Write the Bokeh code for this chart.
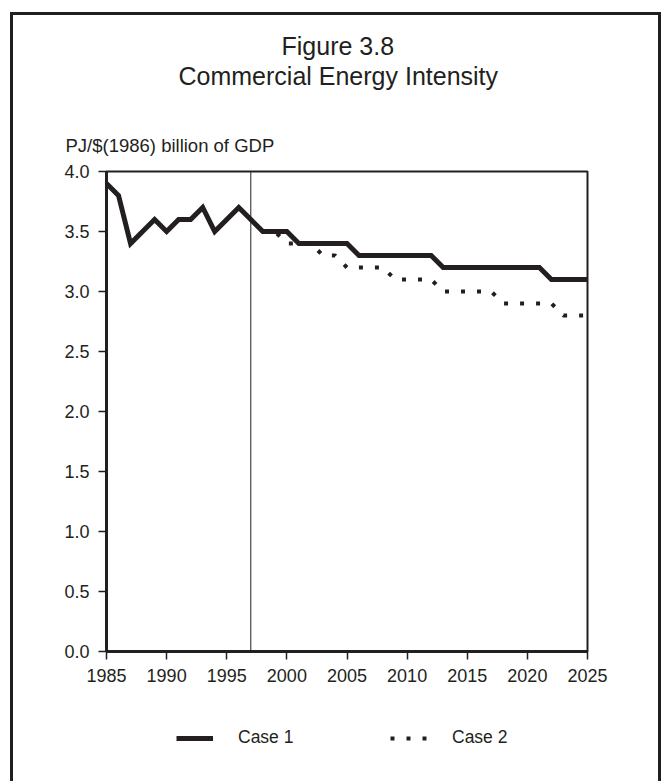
from bokeh.plotting import figure
from bokeh.layouts import column
from bokeh.models import (Range1d, FixedTicker, PrintfTickFormatter, Span, Title,
                          Legend, LegendItem)
from bokeh.embed import file_html
from bokeh.resources import INLINE

# ---- data ----
years_case1 = list(range(1985, 2026))
case1 = [3.9, 3.8, 3.4, 3.5, 3.6, 3.5, 3.6, 3.6, 3.7, 3.5, 3.6, 3.7, 3.6, 3.5, 3.5, 3.5,
         3.4, 3.4, 3.4, 3.4, 3.4,
         3.3, 3.3, 3.3, 3.3, 3.3, 3.3, 3.3,
         3.2, 3.2, 3.2, 3.2, 3.2, 3.2, 3.2, 3.2, 3.2,
         3.1, 3.1, 3.1, 3.1]
years_case2 = list(range(1997, 2026))
case2 = [3.6, 3.5, 3.5, 3.4, 3.4, 3.4, 3.3, 3.3, 3.2, 3.2, 3.2, 3.2, 3.1, 3.1, 3.1, 3.1,
         3.0, 3.0, 3.0, 3.0, 3.0, 2.9, 2.9, 2.9, 2.9, 2.9, 2.8, 2.8, 2.8]
x_ticks = [1985, 1990, 1995, 2000, 2005, 2010, 2015, 2020, 2025]
y_ticks = [0.0, 0.5, 1.0, 1.5, 2.0, 2.5, 3.0, 3.5, 4.0]
history_end = 1997
title_line1 = "Figure 3.8"
title_line2 = "Commercial Energy Intensity"
y_label = "PJ/$(1986) billion of GDP"
series_names = ["Case 1", "Case 2"]

INK = "#231f20"
FONT = "Liberation Sans"
CASE1_STYLE = dict(line_color=INK, line_width=5, line_join="miter")
CASE2_STYLE = dict(line_color=INK, line_width=4, line_dash="4 12")

# ---- main chart ----
p = figure(width=645, height=685, output_backend="svg", toolbar_location=None,
           x_range=Range1d(1985, 2025), y_range=Range1d(0, 4),
           min_border_left=93, min_border_right=71, min_border_top=156, min_border_bottom=49,
           background_fill_color="white", border_fill_color="white", title=None)
p.outline_line_color = INK
p.outline_line_width = 2
p.grid.visible = False

for ax in (p.xaxis[0], p.yaxis[0]):
    ax.axis_line_width = 3
    ax.axis_line_color = INK
    ax.major_tick_out = 8
    ax.major_tick_in = 0
    ax.major_tick_line_color = INK
    ax.major_tick_line_width = 1.5
    ax.minor_tick_line_color = None
    ax.major_label_text_font = FONT
    ax.major_label_text_font_size = "18px"
    ax.major_label_text_color = INK
    ax.major_label_standoff = 9

p.xaxis.ticker = FixedTicker(ticks=x_ticks)
p.yaxis.ticker = FixedTicker(ticks=y_ticks)
p.yaxis.formatter = PrintfTickFormatter(format="%.1f")

p.add_layout(Span(location=history_end, dimension="height", line_color=INK, line_width=1))

p.line(years_case1, case1, **CASE1_STYLE)
p.line(years_case2, case2, **CASE2_STYLE)

# titles stacked above the frame (first added = nearest to the frame)
p.add_layout(Title(text=y_label, align="left", offset=-41, vertical_align="bottom",
                   standoff=31, text_font=FONT, text_font_size="18.5px",
                   text_font_style="normal", text_color=INK), "above")
p.add_layout(Title(text=" ", align="left", vertical_align="bottom", standoff=15,
                   text_font=FONT, text_font_size="10px", text_color=INK), "above")
p.add_layout(Title(text=title_line2, align="left", offset=72, vertical_align="bottom",
                   standoff=0, text_font=FONT, text_font_size="25px",
                   text_font_style="normal", text_color=INK), "above")
p.add_layout(Title(text=title_line1, align="left", offset=175, vertical_align="bottom",
                   standoff=0, text_font=FONT, text_font_size="25px",
                   text_font_style="normal", text_color=INK), "above")

# ---- legend strip (its frame is aligned with the chart's frame by the column) ----
q = figure(width=645, height=81, output_backend="svg", toolbar_location=None,
           x_range=Range1d(0, 1), y_range=Range1d(0, 1),
           x_axis_location=None, y_axis_location=None, min_border=0,
           background_fill_color="white", border_fill_color="white", title=None)
q.outline_line_color = None
q.grid.visible = False
# same series, outside this strip's ranges: only their legend glyphs show
k1 = q.line(years_case1, case1, **CASE1_STYLE)
k2 = q.line(years_case2, case2, **CASE2_STYLE)
legend = Legend(items=[LegendItem(label=series_names[0], renderers=[k1]),
                       LegendItem(label=series_names[1], renderers=[k2])],
                orientation="horizontal", location=(70, 33),
                glyph_width=37, glyph_height=20, label_standoff=25, label_width=65,
                spacing=87, padding=0, margin=0, border_line_color=None,
                background_fill_alpha=0,
                label_text_font=FONT, label_text_font_size="17.5px", label_text_color=INK)
q.add_layout(legend, "center")

layout = column(p, q, spacing=0)
layout.styles = {"margin-left": "10px", "margin-top": "12px",
                 "border-left": "3px solid #231f20", "border-top": "3px solid #231f20",
                 "border-right": "3px solid #231f20"}

open("out.html", "w").write(file_html(layout, INLINE))
